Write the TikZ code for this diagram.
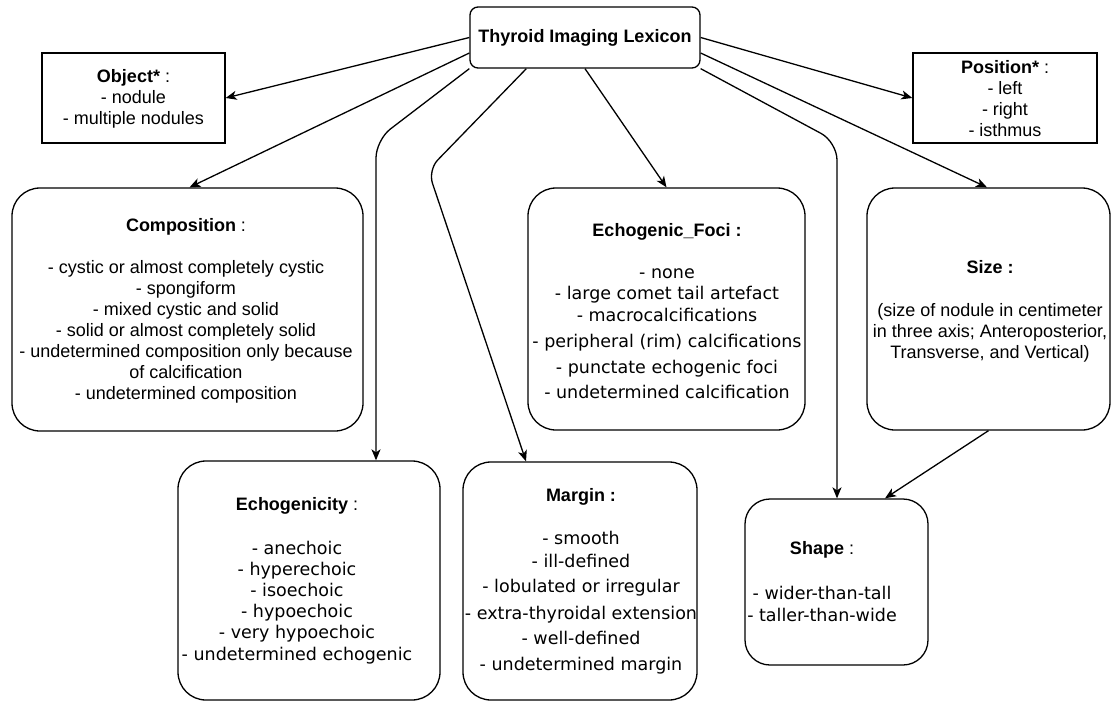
\documentclass[tikz,border=0pt]{standalone}
\usepackage{fontspec}
\setmainfont{Liberation Sans}
\newfontfamily\dv{DejaVu Sans}
\usetikzlibrary{arrows.meta}
\newcommand\ttl[2]{{\fontsize{18}{21}\selectfont\rmfamily\textbf{#1}#2}}
\newcommand\D[1]{{\dv\fontsize{17.5}{21}\selectfont #1}}
\begin{document}
\begin{tikzpicture}[x=1pt,y=-1pt,
  box/.style={draw, line width=1.3pt, rounded corners=28pt, inner sep=0pt},
  sqbox/.style={draw, line width=1.3pt, inner sep=0pt},
  txt/.style={align=center, inner sep=0pt, font=\fontsize{18}{21}\selectfont},
  arr/.style={line width=1.3pt, -{Stealth[length=11pt,width=9pt,inset=3pt]}},
]
\useasboundingbox (0,0) rectangle (1112,702);

% boxes
\node[box, rounded corners=8pt, minimum width=230pt, minimum height=61pt, font=\fontsize{18}{21}\selectfont\bfseries] (root) at (585,37.5) {Thyroid Imaging Lexicon};
\node[sqbox, minimum width=183pt, minimum height=90pt] (obj) at (133.5,98) {};
\node[sqbox, minimum width=184pt, minimum height=90pt] (pos) at (1005,98) {};
\node[box, minimum width=351pt, minimum height=243pt] (comp) at (187.5,309.5) {};
\node[box, minimum width=277pt, minimum height=242pt] (foci) at (666.5,309) {};
\node[box, minimum width=243pt, minimum height=242pt] (size) at (988.5,309) {};
\node[box, minimum width=262pt, minimum height=239pt] (echo) at (309,580.5) {};
\node[box, minimum width=234pt, minimum height=238pt] (marg) at (580,581) {};
\node[box, rounded corners=25pt, minimum width=183pt, minimum height=166pt] (shape) at (836.5,582) {};

% texts
\node[txt] (objT) at (133.5,99) {\textbf{Object*} :\\- nodule\\- multiple nodules};
\node[txt] (posT) at (1005,99) {\textbf{Position*} :\\- left\\- right\\- isthmus};
\node[txt] (compT) at (186,311) {\textbf{Composition} :\\[21pt]- cystic or almost completely cystic\\- spongiform\\- mixed cystic and solid\\- solid or almost completely solid\\- undetermined composition only because\\of calcification\\- undetermined composition};
\node[txt] (fociT) at (667,311) {\textbf{Echogenic\_Foci :}\\[21pt]\D{- none}\\\D{- large comet tail artefact}\\[1pt]\D{- macrocalcifications}\\[5pt]\D{- peripheral (rim) calcifications}\\[5pt]\D{- punctate echogenic foci}\\[4pt]\D{- undetermined calcification}};
\node[txt] (sizeT) at (990,311) {\textbf{Size :}\\[22pt](size of nodule in centimeter\\in three axis; Anteroposterior,\\Transverse, and Vertical)};
\node[txt] (echoT) at (297,581) {\textbf{Echogenicity} :\\[23pt]\D{- anechoic}\\\D{- hyperechoic}\\\D{- isoechoic}\\\D{- hypoechoic}\\\D{- very hypoechoic}\\[1pt]\D{- undetermined echogenic}};
\node[txt] (margT) at (581,581.5) {\textbf{Margin :}\\[22pt]\D{- smooth}\\[2pt]\D{- ill-defined}\\[4pt]\D{- lobulated or irregular}\\[6pt]\D{- extra-thyroidal extension}\\[4pt]\D{- well-defined}\\[5pt]\D{- undetermined margin}};
\node[txt] (shapeT) at (822,581.5) {\textbf{Shape} :\\[24pt]\D{- wider-than-tall}\\[1pt]\D{- taller-than-wide}};

% connectors
\draw[arr] (root.west) -- (obj.east);
\draw[arr] ([yshift=-15.5pt]root.west) -- ([xshift=2pt]comp.north);
\draw[arr, rounded corners=18pt] (root.south west) -- (376,140) -- ([xshift=67pt]echo.north);
\draw[arr, rounded corners=14pt] ([xshift=57pt]root.south west) -- (428,170) -- ([xshift=-54pt]marg.north);
\draw[arr] (root.south) -- (foci.north);
\draw[arr, rounded corners=18pt] (root.south east) -- (837,142) -- ([xshift=0.5pt]shape.north);
\draw[arr] ([yshift=-15.5pt]root.east) -- ([xshift=-1.5pt]size.north);
\draw[arr] (root.east) -- (pos.west);
\draw[arr] (size.south) -- ([xshift=48.5pt]shape.north);
\end{tikzpicture}
\end{document}
